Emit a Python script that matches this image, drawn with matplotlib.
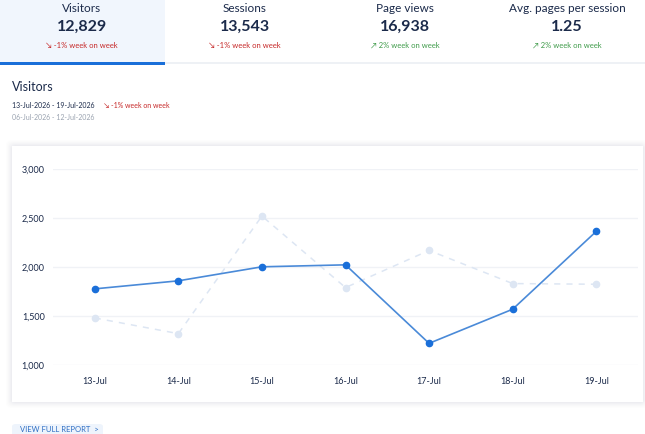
import numpy as np
import matplotlib.pyplot as plt
from matplotlib.patches import Rectangle, FancyBboxPatch

# ---------------- data ----------------
days = ['13-Jul', '14-Jul', '15-Jul', '16-Jul', '17-Jul', '18-Jul', '19-Jul']
visitors_this_week = [1777, 1859, 2002, 2022, 1221, 1569, 2363]
visitors_last_week = [1480, 1320, 2520, 1790, 2169, 1831, 1824]
yticks = [1000, 1500, 2000, 2500, 3000]

kpi_names = ['Visitors', 'Sessions', 'Page views', 'Avg. pages per session']
kpi_values = ['12,829', '13,543', '16,938', '1.25']
kpi_changes = ['-1% week on week', '-1% week on week', '2% week on week', '2% week on week']
kpi_up = [False, False, True, True]

FONT = ['Lato', 'DejaVu Sans']
plt.rcParams['font.family'] = FONT

NAVY = '#1b2a4a'
RED = '#c62828'
GREEN = '#3f9b4a'
BLUE = '#1a6fd9'
PALE = '#dde6f3'

W, H = 645, 434
fig = plt.figure(figsize=(W / 100, H / 100), dpi=100)
fig.patch.set_facecolor('white')


def fx(x):
    return x / W


def fy(y):
    return 1 - y / H


# KPI tabs
fig.patches.append(Rectangle((0, fy(62)), fx(165), 62 / H, transform=fig.transFigure,
                             facecolor='#f1f6fd', edgecolor='none', zorder=0))
fig.patches.append(Rectangle((fx(165), fy(64)), fx(480), 1.5 / H, transform=fig.transFigure,
                             facecolor='#eef1f5', edgecolor='none', zorder=0))
fig.patches.append(Rectangle((0, fy(65)), fx(165), 3 / H, transform=fig.transFigure,
                             facecolor=BLUE, edgecolor='none', zorder=1))

centers = [82, 245, 405, 567]
for cx, name, val, chg, up in zip(centers, kpi_names, kpi_values, kpi_changes, kpi_up):
    fig.text(fx(cx), fy(9), name, ha='center', va='center', fontsize=8.5, color=NAVY)
    fig.text(fx(cx), fy(27), val, ha='center', va='center', fontsize=11.5,
             color=NAVY, fontweight='bold')
    arrow = '\u2197' if up else '\u2198'
    fig.text(fx(cx), fy(45), arrow + ' ' + chg, ha='center', va='center', fontsize=5.5,
             color=GREEN if up else RED)

# section header
fig.text(fx(12), fy(87), 'Visitors', ha='left', va='center', fontsize=9, color=NAVY)
fig.text(fx(12), fy(105), '13-Jul-2026 - 19-Jul-2026', ha='left', va='center',
         fontsize=5, color=NAVY)
fig.text(fx(104), fy(105), '\u2198 -1% week on week', ha='left', va='center',
         fontsize=5, color=RED)
fig.text(fx(12), fy(118), '06-Jul-2026 - 12-Jul-2026', ha='left', va='center',
         fontsize=5, color='#9aa3b0')

# card with soft shadow
for i, a in enumerate([0.01, 0.015, 0.02, 0.025, 0.03, 0.035]):
    g = 6 - i
    fig.patches.append(FancyBboxPatch((fx(12 - g), fy(402 + g)), fx(631 + 2 * g),
                                      (256 + 2 * g) / H, boxstyle='round,pad=0,rounding_size=0.01',
                                      transform=fig.transFigure, facecolor='#8090a8',
                                      alpha=a, edgecolor='none', zorder=0))
fig.patches.append(Rectangle((fx(12), fy(402)), fx(631), 256 / H, transform=fig.transFigure,
                             facecolor='white', edgecolor='none', zorder=0))

# button
fig.patches.append(FancyBboxPatch((fx(12), fy(440)), fx(91), 16 / H,
                                  boxstyle='round,pad=0,rounding_size=0.006',
                                  transform=fig.transFigure, facecolor='#eef4fc',
                                  edgecolor='none', zorder=0))
fig.text(fx(20), fy(430), 'VIEW FULL REPORT  >', ha='left', va='center', fontsize=5.5,
         color='#2f6fc4')

# chart
ax = fig.add_axes([fx(53), fy(365), fx(638 - 53), (365 - 169) / H])
ax.set_zorder(2)
ax.set_facecolor('none')
x = np.arange(len(days))
ax.plot(x, visitors_last_week, color=PALE, lw=1.1, ls=(0, (4, 4)), marker='o',
        ms=4.5, mfc=PALE, mec=PALE, zorder=2)
ax.plot(x, visitors_this_week, color='#4a8ad8', lw=1.2, marker='o', ms=4.5,
        mfc=BLUE, mec=BLUE, zorder=3)
ax.set_xlim(-0.5, 6.5)
ax.set_ylim(1000, 3000)
ax.set_yticks(yticks)
ax.set_yticklabels([f'{v:,}' for v in yticks])
ax.set_xticks(x)
ax.set_xticklabels(days)
ax.grid(axis='y', color='#f0f2f6', lw=1)
ax.set_axisbelow(True)
for s in ax.spines.values():
    s.set_visible(False)
ax.tick_params(length=0, labelsize=6.5, colors=NAVY)
ax.tick_params(axis='x', pad=9)
ax.tick_params(axis='y', pad=6)

fig.savefig('out.png', dpi=100)
